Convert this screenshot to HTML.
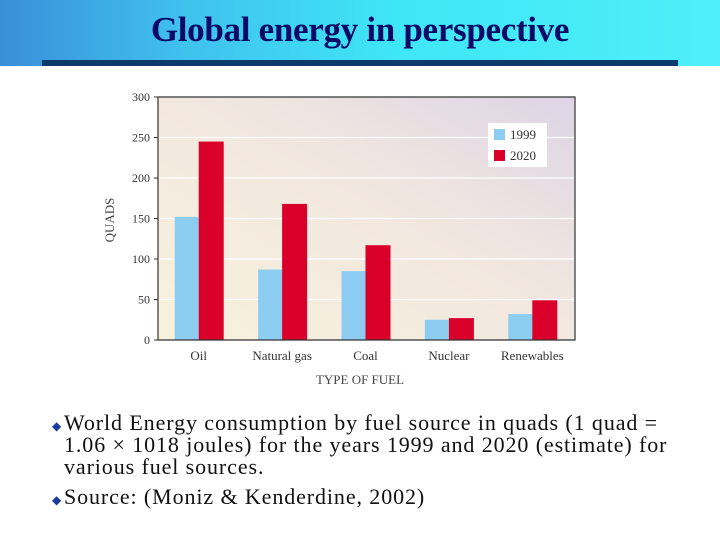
<!DOCTYPE html>
<html><head><meta charset="utf-8"><style>
body{margin:0;width:720px;height:540px;overflow:hidden;background:#fff;font-family:"Liberation Serif",serif;position:relative}
#hdr{position:absolute;left:0;top:0;width:720px;height:66px;background:linear-gradient(90deg,#3a8fd8 0%,#3fc0ee 25%,#3fe6f6 55%,#4ef0f8 100%)}
#title{position:absolute;left:0;width:720px;top:10px;text-align:center;font-size:35px;font-weight:bold;color:#0a0a66;letter-spacing:-0.3px}
#rule{position:absolute;left:42px;top:60px;width:636px;height:6px;background:#0c3a6a}
.b{position:absolute;left:64px;font-size:22px;letter-spacing:0.9px;color:#111;line-height:22px}
.b span{position:absolute;left:0;top:0;font-size:12px;color:#1a3aa0}
</style></head><body>
<div id="hdr"></div>
<div id="title">Global energy in perspective</div>
<div id="rule"></div>
<svg id="chart" width="720" height="540" style="position:absolute;left:0;top:0">
<defs><linearGradient id="bg" x1="0" y1="1" x2="1" y2="0"><stop offset="0" stop-color="#f8f2dc"/><stop offset="0.6" stop-color="#f0e6e0"/><stop offset="1" stop-color="#ddd4e6"/></linearGradient></defs>
</svg>
<div class="b" style="top:412px;width:625px"><span style="left:-12px;top:3px">◆</span>World Energy consumption by fuel source in quads (1 quad = 1.06 × 1018 joules) for the years 1999 and 2020 (estimate) for various fuel sources.</div>
<div class="b" style="top:486px"><span style="left:-12px;top:3px">◆</span>Source: (Moniz &amp; Kenderdine, 2002)</div>
<script>
const categories=["Oil","Natural gas","Coal","Nuclear","Renewables"];
const values1999=[152,87,85,25,32];
const values2020=[245,168,117,27,49];
const yTicks=[0,50,100,150,200,250,300];
const NS="http://www.w3.org/2000/svg";
const svg=document.getElementById('chart');
const L=158,R=575,T=97,B=340,yMax=300;
const y=v=>B-(v/yMax)*(B-T);
const gw=(R-L)/categories.length;
const xc=i=>L+gw*(i+0.5)-1;
function mk(t,a,txt){const e=document.createElementNS(NS,t);for(const k in a)e.setAttribute(k,a[k]);if(txt!=null)e.textContent=txt;svg.appendChild(e);return e;}
let e=mk('rect',{x:L,y:T,width:R-L,height:B-T,fill:'url(#bg)'});


yTicks.forEach(t=>{
 if(t>0&&t<300){let g=mk('line',{x1:L,x2:R,y1:y(t),y2:y(t),stroke:'#fff','stroke-width':1.2});
 
 }
 let tk=mk('line',{x1:L-4,x2:L,y1:y(t),y2:y(t),stroke:'#333'});
 
 
 let l=mk('text',{x:L-8,y:y(t)+4,'text-anchor':'end','font-size':12,fill:'#333','font-family':'Liberation Serif,serif'},t);
 
 
});
const bw=24;
categories.forEach((c,i)=>{
 let a=mk('rect',{x:xc(i)-bw,y:y(values1999[i]),width:bw,height:B-y(values1999[i]),fill:'#8ecdf2'});
 
 
 let b=mk('rect',{x:xc(i),y:y(values2020[i]),width:bw+1,height:B-y(values2020[i]),fill:'#d9002a'});
 
 
 let l=mk('text',{x:xc(i),y:360,'text-anchor':'middle','font-size':13,fill:'#333','font-family':'Liberation Serif,serif'},c);
 
 
});
e=mk('path',{d:`M${L} ${T}V${B}H${R}V${T}H${L}`,fill:'none',stroke:'#333','stroke-width':1.2});


e=mk('text',{x:360,y:384,'text-anchor':'middle','font-size':13,fill:'#444','font-family':'Liberation Serif,serif'},'TYPE OF  FUEL');


e=mk('text',{x:0,y:0,transform:'translate(114,220) rotate(-90)','text-anchor':'middle','font-size':13,fill:'#444','font-family':'Liberation Serif,serif'},'QUADS');


e=mk('rect',{x:488,y:123,width:59,height:44,fill:'#fff'});


e=mk('rect',{x:494,y:129,width:11,height:11,fill:'#8ecdf2'});


e=mk('text',{x:510,y:139,'font-size':13,fill:'#333','font-family':'Liberation Serif,serif'},'1999');


e=mk('rect',{x:494,y:150,width:11,height:11,fill:'#d9002a'});


e=mk('text',{x:510,y:160,'font-size':13,fill:'#333','font-family':'Liberation Serif,serif'},'2020');


</script>
</body></html>
